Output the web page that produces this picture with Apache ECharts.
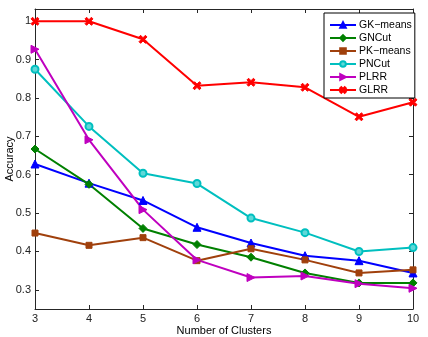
<!DOCTYPE html>
<html>
<head>
<meta charset="utf-8">
<script src="https://cdn.jsdelivr.net/npm/echarts@6/dist/echarts.min.js"></script>
<style>
  html, body { margin: 0; padding: 0; background: #fff; }
  #main { width: 428px; height: 337px; }
</style>
</head>
<body>
<div id="main"></div>
<script>
// number of clusters
const clusters = [3, 4, 5, 6, 7, 8, 9, 10];
const yTicks = [0.3, 0.4, 0.5, 0.6, 0.7, 0.8, 0.9, 1];

// accuracy per method
const gkMeans = [0.628, 0.578, 0.533, 0.463, 0.422, 0.389, 0.376, 0.344];
const gnCut   = [0.667, 0.575, 0.460, 0.418, 0.385, 0.344, 0.318, 0.318];
const pkMeans = [0.448, 0.416, 0.436, 0.376, 0.407, 0.378, 0.344, 0.352];
const pnCut   = [0.875, 0.726, 0.604, 0.577, 0.487, 0.449, 0.400, 0.410];
const plrr    = [0.927, 0.691, 0.509, 0.378, 0.332, 0.336, 0.316, 0.304];
const glrr    = [1.000, 1.000, 0.953, 0.832, 0.841, 0.828, 0.751, 0.789];

const xMark = 'path://M0,2 L2,0 L5,3 L8,0 L10,2 L7,5 L10,8 L8,10 L5,7 L2,10 L0,8 L3,5 Z';

function pairs(vals) {
    return clusters.map((c, i) => [c, vals[i]]);
}

function mkSeries(name, vals, color, symbol, size, extra) {
    return Object.assign({
        name: name,
        type: 'line',
        data: pairs(vals),
        symbol: symbol,
        symbolSize: size,
        showAllSymbol: true,
        lineStyle: { color: color, width: 2 },
        itemStyle: { color: color, borderColor: color, borderWidth: 1 },
        emphasis: { disabled: true },
        animation: false
    }, extra || {});
}

const font = 'Liberation Sans, Arial, Helvetica, sans-serif';
const axisCol = '#262626';

const chart = echarts.init(document.getElementById('main'));

chart.setOption({
    backgroundColor: '#fff',
    grid: { left: 35, right: 15, top: 9, bottom: 28, containLabel: false, outerBoundsMode: 'none' },
    legend: {
        orient: 'vertical',
        left: 324,
        top: 13,
        padding: [6, 3, 2, 5],
        itemWidth: 26,
        itemHeight: 7,
        itemGap: 1,
        borderColor: '#000',
        borderWidth: 1,
        borderRadius: 0,
        backgroundColor: '#fff',
        textStyle: { fontFamily: font, fontSize: 10.5, lineHeight: 12, color: '#000', padding: [0, 0, 0, -2] },
        data: ['GK−means', 'GNCut', 'PK−means', 'PNCut', 'PLRR', 'GLRR']
    },
    xAxis: [
        {
            type: 'value',
            min: 3, max: 10, interval: 1,
            name: 'Number of Clusters',
            nameLocation: 'middle',
            nameGap: 16,
            nameMoveOverlap: false,
            nameTextStyle: { fontFamily: font, fontSize: 11, color: '#000' },
            axisLine: { onZero: false, lineStyle: { color: axisCol, width: 1 } },
            axisTick: { inside: true, length: 4, lineStyle: { color: axisCol } },
            axisLabel: { fontFamily: font, fontSize: 11, color: '#222', margin: 4 },
            splitLine: { show: false }
        },
        {
            type: 'value',
            position: 'top',
            min: 3, max: 10, interval: 1,
            axisLine: { onZero: false, lineStyle: { color: axisCol, width: 1 } },
            axisTick: { inside: true, length: 4, lineStyle: { color: axisCol } },
            axisLabel: { show: false },
            splitLine: { show: false }
        }
    ],
    yAxis: [
        {
            type: 'value',
            min: 0.25, max: 1.032,
            name: 'Accuracy',
            nameLocation: 'middle',
            nameGap: 20,
            nameMoveOverlap: false,
            nameTextStyle: { fontFamily: font, fontSize: 11, color: '#000' },
            axisLine: { show: true, onZero: false, lineStyle: { color: axisCol, width: 1 } },
            axisTick: { show: true, inside: true, length: 4, customValues: yTicks, lineStyle: { color: axisCol } },
            axisLabel: {
                fontFamily: font, fontSize: 11, color: '#222', margin: 4,
                customValues: yTicks,
                formatter: v => String(Math.round(v * 10) / 10)
            },
            splitLine: { show: false }
        },
        {
            type: 'value',
            position: 'right',
            min: 0.25, max: 1.032,
            axisLine: { show: true, onZero: false, lineStyle: { color: axisCol, width: 1 } },
            axisTick: { show: true, inside: true, length: 4, customValues: yTicks, lineStyle: { color: axisCol } },
            axisLabel: { show: false, customValues: yTicks },
            splitLine: { show: false }
        }
    ],
    series: [
        mkSeries('GK−means', gkMeans, '#0000ff', 'triangle', 8),
        mkSeries('GNCut', gnCut, '#008000', 'diamond', 8),
        mkSeries('PK−means', pkMeans, '#a0400c', 'rect', 6),
        mkSeries('PNCut', pnCut, '#00bfbf', 'circle', 7, {
            itemStyle: { color: '#5fd8d8', borderColor: '#00bfbf', borderWidth: 2 }
        }),
        mkSeries('PLRR', plrr, '#bf00bf', 'triangle', 8, { symbolRotate: -90 }),
        mkSeries('GLRR', glrr, '#ff0000', xMark, 8)
    ]
});
</script>
</body>
</html>
